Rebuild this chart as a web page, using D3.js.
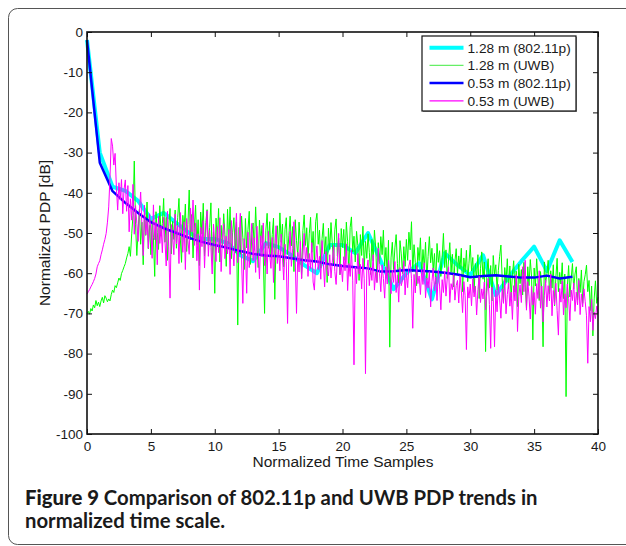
<!DOCTYPE html>
<html>
<head>
<meta charset="utf-8">
<script src="https://cdn.jsdelivr.net/npm/d3@7"></script>
<style>
  html, body { margin: 0; padding: 0; background: #fff; }
  svg { display: block; }
</style>
</head>
<body>
<div id="chart"></div>
<script>
// ---------- data ----------
const xTicks = [0, 5, 10, 15, 20, 25, 30, 35, 40];
const yTicks = [0, -10, -20, -30, -40, -50, -60, -70, -80, -90, -100];
const seriesNames = ["1.28 m (802.11p)", "1.28 m (UWB)", "0.53 m (802.11p)", "0.53 m (UWB)"];

// 802.11p series, one value per integer time sample (0..38)
const p128 = [-2, -30, -38.5, -39.5, -42, -46.5, -45, -47.5, -50, -51.5,
  -51.5, -52.5, -55.5, -57, -52.5, -53.5, -55.5, -58, -60, -53,
  -53, -55, -50, -57, -64, -60, -57.5, -66.5, -55, -58,
  -60.5, -55.5, -65.5, -61, -57, -53.4, -59.5, -51.8, -57.2];
const p053 = [-2, -32.5, -39.6, -42.5, -45, -47.3, -48.8, -50, -51.2, -52.2,
  -53, -53.7, -54.5, -55.2, -55.6, -55.8, -56.3, -56.8, -57.1, -57.8,
  -58.2, -58.5, -58.8, -59.6, -59.5, -59.2, -59.4, -59.6, -59.9, -60.3,
  -61, -60.7, -60.5, -60.8, -61.1, -61.1, -60.6, -61.3, -60.9];

// UWB series, sampled every 0.1 time units (0..40)
const uwb128 = [
  -70,-69.5,-70.2,-68.8,-69.4,-67.9,-68.6,-66.8,-68.1,-67.2,
  -68.3,-66.9,-66,-67.4,-65.6,-66.2,-67.1,-66.4,-66.9,-65.3,
  -64.2,-64.8,-63.1,-63.6,-62.4,-61.2,-61.8,-60.1,-59.3,-58.4,
  -57.6,-56.2,-55.1,-53.4,-55.8,-50.2,-45.6,-32.1,-47.8,-55.6,
  -49.2,-44.1,-52.8,-47.3,-57.9,-45.2,-50.6,-42.3,-53.9,-48.1,
  -55.4,-46.8,-51.2,-60.8,-44.7,-49.9,-54.1,-43.2,-50.8,-47.6,
  -41.4,-52.3,-46.1,-56.8,-48.4,-43.9,-55.2,-47.1,-51.6,-44.3,
  -53.8,-46.2,-41.4,-50.9,-57.3,-45.6,-49.2,-42.8,-54.6,-47.9,
  -39.3,-51.7,-45.4,-56.2,-48.8,-43.1,-52.9,-46.7,-58.1,-44.8,
  -50.3,-42.6,-55.7,-47.4,-44.2,-53.1,-48.6,-42.5,-56.9,-49.7,
  -65,-46.3,-51.8,-43.9,-57.2,-48.1,-53.6,-45.2,-50.4,-58.3,
  -44.1,-52.7,-43.5,-56.4,-49.8,-46.2,-54.9,-47.3,-72.9,-48.6,
  -55.3,-45.8,-51.2,-59.1,-46.4,-53.7,-49.2,-44.6,-57.8,-50.1,
  -47.5,-54.3,-43.5,-51.9,-58.6,-46.8,-52.4,-48.1,-55.7,-70,
  -49.3,-45.1,-53.8,-47.2,-56.1,-50.4,-46.3,-66.5,-51.8,-48.2,
  -54.6,-45,-52.3,-47.8,-58.4,-49.1,-46.2,-55.3,-50.7,-45.8,
  -53.2,-48.4,-59.6,-46.7,-51.9,-55.8,-47.3,-52.6,-61.2,-49.4,
  -45.5,-53.1,-48.7,-56.4,-50.2,-46.1,-54.8,-49.6,-57.3,-47.2,
  -45.1,-52.8,-49.3,-58.7,-51.4,-47.6,-55.2,-50.9,-62.3,-48.8,
  -54.1,-47.4,-52.6,-57.9,-49.2,-46.5,-55.7,-51.3,-60.4,-48.9,
  -53.6,-49.1,-56.8,-47.3,-52.2,-59.4,-48.6,-46,-54.7,-50.8,
  -57.2,-49.6,-53.1,-61.8,-50.4,-55.6,-48.3,-58.7,-52.1,-56.3,
  -50.2,-54.8,-60.3,-51.6,-56.9,-49.3,-53.7,-62.1,-52.4,-57.6,
  -50.9,-55.4,-49.3,-58.2,-53.6,-60.7,-51.8,-78.4,-56.2,-52.3,
  -59.1,-53.7,-50.4,-57.6,-62.4,-51.9,-55.2,-60.1,-53.4,-58.3,
  -51.6,-56.8,-49.8,-54.2,-47.2,-59.7,-52.9,-57.4,-63.1,-53.6,
  -56.9,-51.2,-60.4,-54.1,-58.7,-52.3,-61.6,-55.8,-50.9,-57.4,
  -53.8,-59.2,-55.1,-62.7,-52.6,-57.3,-54.4,-60.8,-56.1,-50.1,
  -58.6,-54.2,-61.3,-56.7,-52.4,-59.8,-55.3,-63.4,-57.1,-53.9,
  -60.2,-55.7,-58.9,-53.8,-64.6,-56.2,-59.7,-54.3,-62.1,-57.5,
  -53,-59.4,-56.1,-64.8,-57.6,-61.2,-55.4,-66.3,-58.9,-54.7,
  -61.5,-57.2,-79.5,-59.8,-56.4,-63.7,-58.1,-66.9,-55.6,-60.3,
  -57.9,-64.2,-59.3,-55.8,-53,-61.4,-67.2,-58.6,-62.3,-56.4,
  -63.8,-58.2,-66.1,-60.4,-56.9,-64.7,-59.5,-68.3,-57.8,-62.6,
  -59.1,-65.4,-57.3,-62.8,-68.6,-58.4,-63.1,-56.6,-60.9,-76.6,
  -58.7,-63.2,-56.4,-61.9,-66.8,-59.6,-64.3,-78.3,-57.2,-62.4,
  -60.3,-56.8,-65.2,-59.4,-63.7,-57.9,-68.1,-61.2,-56.3,-64.6,
  -59.8,-62.7,-57.4,-66.3,-60.2,-90.7,-63.5,-58.1,-65.9,-61.4,
  -57.6,-63.9,-60.2,-58.4,-66.7,-61.3,-64.8,-59.2,-67.5,-62.1,
  -60.4,-58,-64.6,-61.8,-69.3,-63.2,-75.6,-66.4,-61.9,-67.5,
  -66];
const uwb053 = [
  -65.2,-64.6,-64.1,-63.4,-62.8,-62.1,-61.3,-60.2,-58.4,-57.6,
  -56.9,-55.4,-54.2,-52.8,-51.6,-50.1,-47.3,-43.5,-36.2,-26.5,
  -28.4,-33.1,-30.2,-38.6,-44.3,-37.5,-41.8,-36.7,-45.2,-39.1,
  -36.8,-44.6,-38.2,-49.7,-41.5,-46.8,-37.9,-50.3,-43.2,-47.6,
  -52.1,-44.7,-39.8,-48.2,-55.6,-43.1,-50.4,-46.9,-53.8,-45.2,
  -49.6,-56.3,-43,-51.7,-47.4,-57.9,-45.8,-52.6,-48.3,-54.9,
  -46.1,-51.8,-58.2,-44.6,-53.4,-66.2,-47.9,-50.8,-55.4,-45.3,
  -52.7,-48.1,-57.6,-44.9,-50.3,-54.8,-47.2,-59.1,-46.4,-51.9,
  -55.3,-43.8,-49.7,-41.8,-53.1,-47.5,-56.9,-50.2,-64.2,-48.6,
  -53.4,-46.9,-58.7,-50.1,-44.5,-55.8,-49.3,-53.6,-60.2,-47.8,
  -52.6,-57.1,-48.4,-54.9,-46.2,-59.6,-51.3,-47.7,-56.4,-50.8,
  -55.2,-49.1,-60.3,-46.9,-53.8,-58.2,-50.5,-45.1,-57.4,-52.3,
  -45.1,-56.7,-67.5,-51.4,-54.2,-65,-49.8,-58.6,-53.1,-47.6,
  -56.9,-51.2,-59.8,-48.3,-54.6,-61.4,-50.7,-55.9,-47.5,-58.1,
  -52.4,-60.2,-49.6,-55.3,-58.8,-51.1,-62.3,-53.7,-48.2,-57.6,
  -54.1,-59.4,-50.3,-56.2,-61.7,-52.8,-57.1,-72.5,-55.2,-49.6,
  -58.3,-53.9,-47.2,-56.4,-70,-54.8,-59.7,-52.1,-61.4,-55.6,
  -50.1,-57.3,-53.6,-60.8,-55.1,-58.9,-52.4,-62.2,-64.2,-56.7,
  -53.2,-59.1,-55.8,-61.5,-51.9,-57.2,-63.4,-54.6,-58.8,-60.7,
  -55.4,-61.2,-57.3,-53.1,-59.6,-62.8,-56.2,-50.1,-60.3,-57.8,
  -62.1,-55.9,-59.4,-52.7,-64.3,-57.6,-60.8,-54.2,-61.9,-82.8,
  -58.4,-62.6,-55.1,-60.2,-57.8,-63.9,-56.3,-61.4,-85,-59.2,
  -56.7,-63.1,-58.6,-61.8,-55.4,-64.2,-59.7,-62.4,-53.8,-60.1,
  -64.6,-57.9,-61.3,-66.2,-58.4,-62.7,-56.8,-60.5,-65.1,-59.2,
  -62.3,-57.1,-64.8,-60.4,-67.2,-58.6,-63.1,-61.7,-56.9,-65.4,
  -59.8,-63.6,-58.2,-56.7,-61.4,-73.7,-60.3,-64.9,-58.1,-62.6,
  -60.7,-65.3,-59.1,-62.8,-57.4,-66.1,-61.2,-63.7,-59.6,-68.4,
  -62.1,-58.7,-64.4,-60.9,-66.8,-59.3,-63.2,-69.1,-61.6,-64.8,
  -59.5,-65.7,-61.2,-58.4,-67.3,-62.6,-64.1,-60.3,-66.7,-63.1,
  -61.8,-67.4,-60.6,-64.2,-69.8,-62.1,-65.6,-79,-63.4,-66.2,
  -62.7,-68.1,-61.4,-65.9,-63.2,-70.4,-64.1,-60.8,-67.3,-63.9,
  -66.4,-62.2,-69.1,-64.6,-61.3,-67.8,-78.7,-63.5,-66.1,-78.3,
  -64.2,-69.6,-62.8,-66.4,-71.2,-63.9,-67.5,-61.6,-70.1,-65.3,
  -62.4,-68.2,-64.7,-71.5,-63.1,-66.9,-60.4,-74.5,-65.8,-62.9,
  -67.3,-58.4,-64.6,-56.8,-69.2,-62.1,-65.7,-71.4,-63.3,-67.9,
  -64.8,-70.2,-62.6,-66.3,-59.4,-68.7,-63.2,-72.1,-65.5,-61.7,
  -68.4,-63.1,-66.9,-60.2,-70.6,-64.3,-67.8,-62.5,-69.3,-75.4,
  -63.8,-67.2,-61.9,-70.4,-65.1,-68.6,-62.7,-66.3,-71.8,-64.2,
  -66.8,-62.4,-69.5,-64.7,-67.9,-61.8,-70.3,-65.2,-68.4,-63.9,
  -67.1,-70.6,-82.4,-68.3,-72.1,-66.5,-74.2,-69.7,-71.3,-68.2,
  -70];

const captionBold = "Figure 9";
const captionLine1 = " Comparison of 802.11p and UWB PDP trends in";
const captionLine2 = "normalized time scale.";

// ---------- layout ----------
const W = 626, H = 546;
const plot = { left: 87, right: 598, top: 32, bottom: 434 };
const tickFont = "'Liberation Sans', Arial, Helvetica, sans-serif";

const svg = d3.select("#chart").append("svg")
  .attr("width", W).attr("height", H)
  .attr("viewBox", `0 0 ${W} ${H}`);

// card frame
svg.append("rect")
  .attr("x", 8.5).attr("y", 8.5)
  .attr("width", 700).attr("height", 536)
  .attr("rx", 9).attr("ry", 9)
  .attr("fill", "none").attr("stroke", "#555").attr("stroke-width", 1);

const x = d3.scaleLinear().domain([0, 40]).range([plot.left, plot.right]);
const y = d3.scaleLinear().domain([-100, 0]).range([plot.bottom, plot.top]);

// series lines
const line = d3.line().x(d => x(d[0])).y(d => y(d[1]));
const intSeries = arr => arr.map((v, i) => [i, v]);
const tenthSeries = arr => arr.map((v, i) => [i / 10, v]);

const series = [
  { name: seriesNames[0], data: intSeries(p128), color: "#00ffff", width: 4 },
  { name: seriesNames[1], data: tenthSeries(uwb128), color: "#00ff00", width: 1 },
  { name: seriesNames[2], data: intSeries(p053), color: "#0000ff", width: 2.5 },
  { name: seriesNames[3], data: tenthSeries(uwb053), color: "#ff00ff", width: 1 }
];

const gLines = svg.append("g");
series.forEach(s => {
  gLines.append("path")
    .datum(s.data)
    .attr("d", line)
    .attr("fill", "none")
    .attr("stroke", s.color)
    .attr("stroke-width", s.width)
    .attr("stroke-linejoin", "round");
});

// axes
const fmt = d => String(d);
const axisStyle = g => {
  g.selectAll(".domain").remove();
  g.selectAll(".tick line").attr("stroke", "#111").attr("stroke-width", 1);
  g.selectAll(".tick text").attr("fill", "#1a1a1a")
    .style("font-family", tickFont).style("font-size", "13.5px");
};

svg.append("g").attr("transform", `translate(0,${plot.bottom})`)
  .call(d3.axisBottom(x).tickValues(xTicks).tickSize(-5).tickPadding(5).tickFormat(fmt))
  .call(axisStyle)
  .selectAll(".tick text").attr("dy", "0.9em");
svg.append("g").attr("transform", `translate(0,${plot.top})`)
  .call(d3.axisTop(x).tickValues(xTicks).tickSize(-5).tickFormat(""))
  .call(axisStyle);
svg.append("g").attr("transform", `translate(${plot.left},0)`)
  .call(d3.axisLeft(y).tickValues(yTicks).tickSize(-5).tickPadding(4).tickFormat(fmt))
  .call(axisStyle);
svg.append("g").attr("transform", `translate(${plot.right},0)`)
  .call(d3.axisRight(y).tickValues(yTicks).tickSize(-5).tickFormat(""))
  .call(axisStyle);

// plot frame
svg.append("rect")
  .attr("x", plot.left).attr("y", plot.top)
  .attr("width", plot.right - plot.left).attr("height", plot.bottom - plot.top)
  .attr("fill", "none").attr("stroke", "#111").attr("stroke-width", 1.6);

// axis labels
svg.append("text")
  .attr("x", (plot.left + plot.right) / 2 + 0.5).attr("y", 467)
  .attr("text-anchor", "middle")
  .style("font-family", tickFont).style("font-size", "15.5px").attr("fill", "#1a1a1a")
  .text("Normalized Time Samples");
svg.append("text")
  .attr("transform", `translate(49.5,${(plot.top + plot.bottom) / 2}) rotate(-90)`)
  .attr("text-anchor", "middle")
  .style("font-family", tickFont).style("font-size", "15.5px").attr("fill", "#1a1a1a")
  .text("Normalized PDP [dB]");

// legend
const leg = { x: 422, y: 36, w: 154, h: 75 };
const gLeg = svg.append("g");
gLeg.append("rect")
  .attr("x", leg.x + 1).attr("y", leg.y + 1).attr("width", leg.w).attr("height", leg.h)
  .attr("fill", "#999");
gLeg.append("rect")
  .attr("x", leg.x).attr("y", leg.y).attr("width", leg.w).attr("height", leg.h)
  .attr("fill", "#fff").attr("stroke", "#111").attr("stroke-width", 1.2);
const legendColors = ["#00ffff", "#66ee66", "#0000ff", "#ff00ff"];
series.forEach((s, i) => {
  const cy = 47.7 + i * 17.7;
  gLeg.append("line")
    .attr("x1", 429.5).attr("x2", 463.5).attr("y1", cy).attr("y2", cy)
    .attr("stroke", legendColors[i]).attr("stroke-width", i === 0 ? 4 : (i === 2 ? 2.5 : 1.2));
  gLeg.append("text")
    .attr("x", 467.5).attr("y", cy).attr("dy", "0.36em")
    .style("font-family", tickFont).style("font-size", "13.7px").attr("fill", "#1a1a1a")
    .text(s.name);
});

// caption
const capFont = "Lato, 'Open Sans', 'Noto Sans', sans-serif";
const cap1 = svg.append("text").attr("x", 25).attr("y", 505)
  .style("font-family", capFont).style("font-size", "18px").style("font-weight", "bold")
  .attr("fill", "#1a1a1a");
cap1.append("tspan").style("font-weight", "900").text(captionBold);
cap1.append("tspan").text(captionLine1);
const cap2 = svg.append("text").attr("x", 25).attr("y", 528)
  .style("font-family", capFont).style("font-size", "18px").style("font-weight", "bold")
  .attr("fill", "#1a1a1a")
  .text(captionLine2);
// fit caption width to reference (~513px for first line)
const w1 = cap1.node().getComputedTextLength();
const fs = 18 * 513 / w1;
cap1.style("font-size", fs + "px");
cap2.style("font-size", fs + "px");
</script>
</body>
</html>
